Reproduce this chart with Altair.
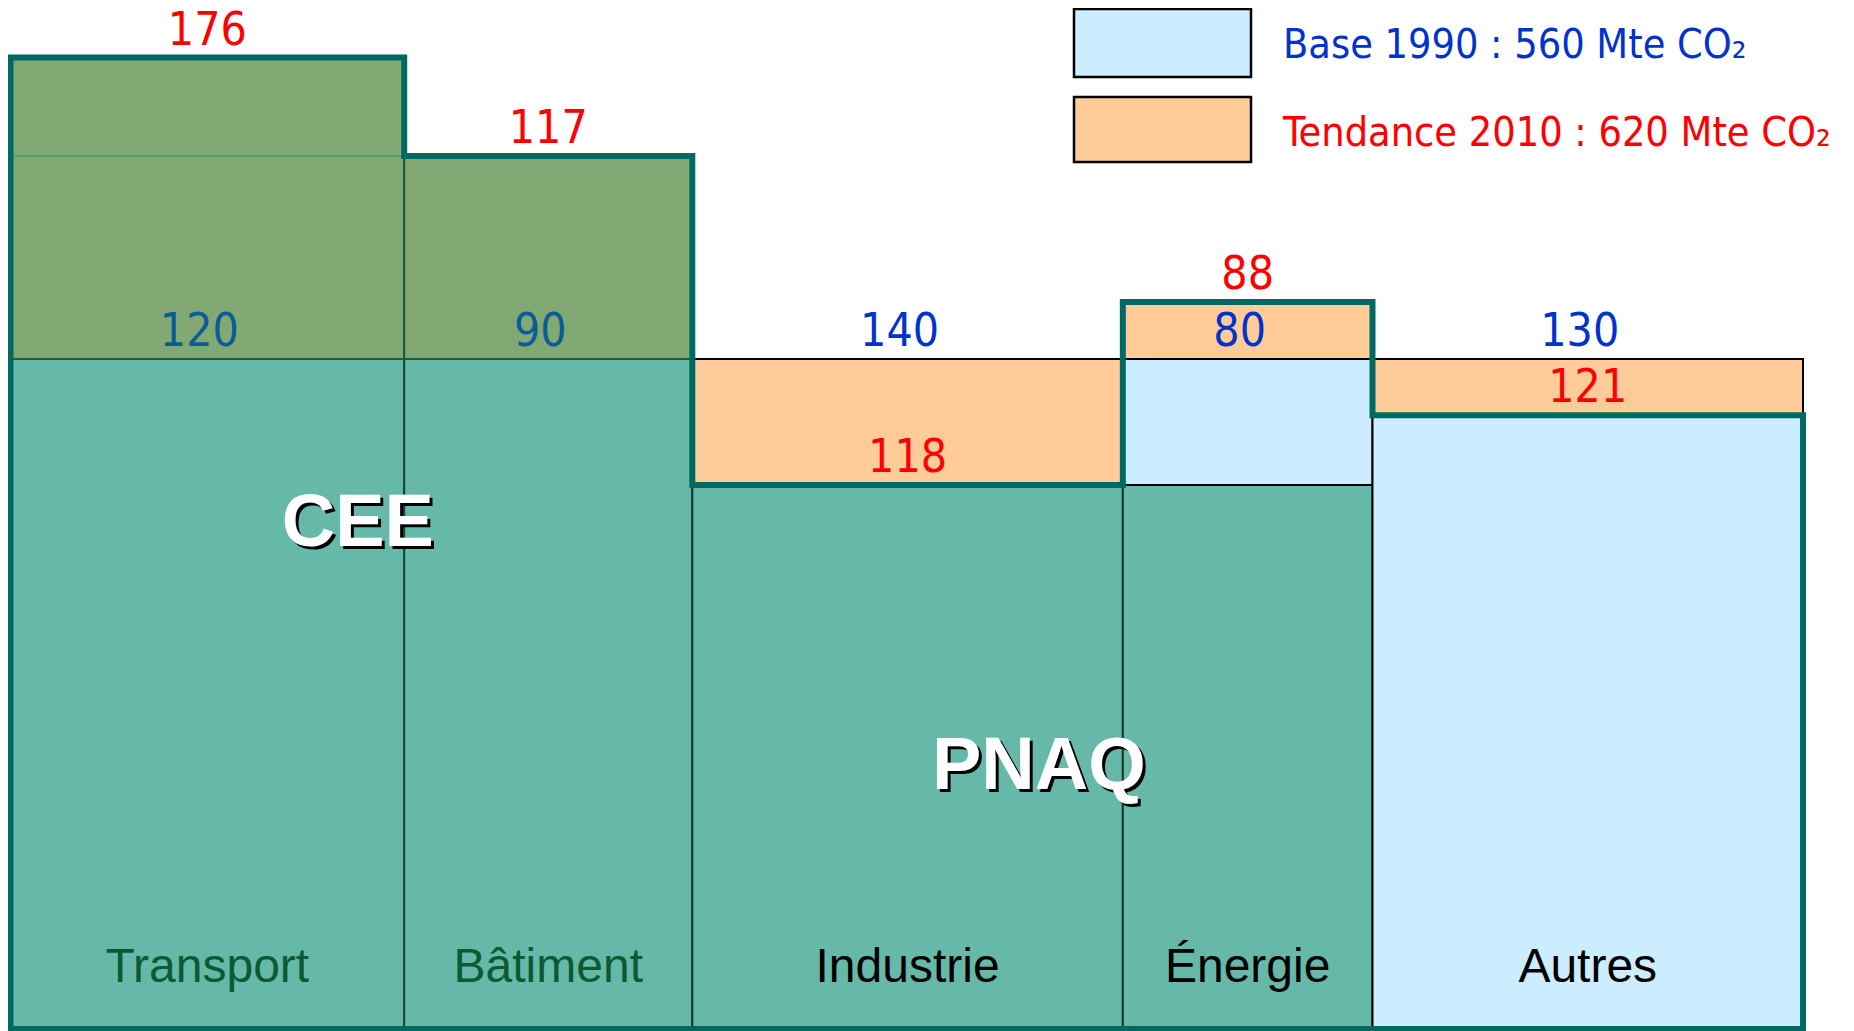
import altair as alt
import pandas as pd

# ---------------- data ----------------
secteurs = ["Transport", "Bâtiment", "Industrie", "Énergie", "Autres"]
base_1990 = [120, 90, 140, 80, 130]            # Mt CO2, 1990 labels
tendance_2010 = [176, 117, 118, 88, 121]       # Mt CO2, 2010 trend labels
largeur = [123, 90, 134.5, 78, 134.5]          # column widths (Mt scale, total 560)
indice_2010 = [145, 130.3, 81.2, 108.5, 91.6]  # column heights, 1990 level = 100
dispositif = ["CEE", "CEE", "PNAQ", "PNAQ", ""]
legende = ["Base 1990 : 560 Mte CO₂", "Tendance 2010 : 620 Mte CO₂"]

# ---------------- styles ----------------
TEAL = "#66B8A8"
OLIVE = "#82A874"
BLEU_CLAIR = "#CCECFF"
PECHE = "#FFCC99"
CONTOUR = "#006A62"
ROUGE = "#FF0000"
BLEU = "#0033CC"
BLEU_CEE = "#0A5C96"
VERT_TXT = "#0B5A32"
F_NUM = "DejaVu Sans Condensed, DejaVu Sans"
F_CAT = "Liberation Sans, Arial"
BASE = 100

x0, acc = [], 0
for w in largeur:
    x0.append(acc)
    acc += w
x1 = [a + w for a, w in zip(x0, largeur)]
centre = [(a + b) / 2 for a, b in zip(x0, x1)]

niveau_pnaq = min(v for v, d in zip(indice_2010, dispositif) if d == "PNAQ")

seg = []
for i, s in enumerate(secteurs):
    v = indice_2010[i]
    d = dispositif[i]
    bas, haut = min(v, BASE), max(v, BASE)
    if d == "CEE":
        seg.append(dict(x0=x0[i], x1=x1[i], y0=0, y1=BASE, fill=TEAL, stroke="#0E4A30"))
        seg.append(dict(x0=x0[i], x1=x1[i], y0=BASE, y1=v, fill=OLIVE, stroke="#1F5A3A"))
    elif d == "PNAQ":
        seg.append(dict(x0=x0[i], x1=x1[i], y0=0, y1=niveau_pnaq, fill=TEAL, stroke="#123A2A"))
        if niveau_pnaq < bas:
            seg.append(dict(x0=x0[i], x1=x1[i], y0=niveau_pnaq, y1=bas, fill=BLEU_CLAIR, stroke="#000000"))
        if haut > bas:
            seg.append(dict(x0=x0[i], x1=x1[i], y0=bas, y1=haut, fill=PECHE, stroke="#000000"))
    else:
        seg.append(dict(x0=x0[i], x1=x1[i], y0=0, y1=bas, fill=BLEU_CLAIR, stroke="#000000"))
        if haut > bas:
            seg.append(dict(x0=x0[i], x1=x1[i], y0=bas, y1=haut, fill=PECHE, stroke="#000000"))
df_seg = pd.DataFrame(seg)

# faint line in the CEE block at the level of the next column
fines = []
for i in range(len(secteurs) - 1):
    if dispositif[i] == "CEE" and BASE < indice_2010[i + 1] < indice_2010[i]:
        fines.append(dict(x0=x0[i], x1=x1[i], y=indice_2010[i + 1]))
df_fines = pd.DataFrame(fines)

# thick step outline
pts = [(x0[0], 0)] + [(x0[i], indice_2010[i]) for i in range(len(secteurs))] + [(x1[-1], 0), (x0[0], 0)]
df_contour = pd.DataFrame([dict(ordre=k, x=p[0], y=p[1]) for k, p in enumerate(pts)])

df_lab = pd.DataFrame(dict(
    secteur=secteurs,
    centre=centre,
    indice=indice_2010,
    base_lab=[str(v) for v in base_1990],
    tend_lab=[str(v) for v in tendance_2010],
    coul_base=[BLEU_CEE if d == "CEE" else BLEU for d in dispositif],
    coul_cat=[VERT_TXT if d == "CEE" else "#000000" for d in dispositif],
    zero=[0] * len(secteurs),
    cent=[BASE] * len(secteurs),
))

groupes = []
for g in ["CEE", "PNAQ"]:
    idx = [i for i, d in enumerate(dispositif) if d == g]
    groupes.append(dict(nom=g, xc=(x0[idx[0]] + x1[idx[-1]]) / 2 + 2))
df_grp = pd.DataFrame(groupes)

# ---------------- scales ----------------
PX_X = 1838
PX_Y = 1030
xs = alt.Scale(domain=[-0.781, 573.43], nice=False, zero=False)
ys = alt.Scale(domain=[-1.343, 152.39], nice=False, zero=False)

rects = alt.Chart(df_seg).mark_rect(strokeWidth=2).encode(
    x=alt.X("x0:Q", scale=xs, axis=None),
    x2="x1:Q",
    y=alt.Y("y0:Q", scale=ys, axis=None),
    y2="y1:Q",
    fill=alt.Fill("fill:N", scale=None),
    stroke=alt.Stroke("stroke:N", scale=None),
)

fine = alt.Chart(df_fines).mark_rule(color="#45A070", strokeWidth=1.5).encode(
    x=alt.X("x0:Q", scale=xs, axis=None),
    x2="x1:Q",
    y=alt.Y("y:Q", scale=ys, axis=None),
)

contour = alt.Chart(df_contour).mark_line(
    interpolate="step-after", color=CONTOUR, strokeWidth=6,
    strokeJoin="miter", strokeCap="square",
).encode(
    x=alt.X("x:Q", scale=xs, axis=None),
    y=alt.Y("y:Q", scale=ys, axis=None),
    order="ordre:Q",
)

txt_tend = alt.Chart(df_lab).mark_text(
    font=F_NUM, fontSize=46, baseline="alphabetic", align="center", dy=-13, color=ROUGE
).encode(
    x=alt.X("centre:Q", scale=xs, axis=None),
    y=alt.Y("indice:Q", scale=ys, axis=None),
    text="tend_lab:N",
)

txt_base = alt.Chart(df_lab).mark_text(
    font=F_NUM, fontSize=46, baseline="alphabetic", align="center", dx=-8, dy=-13
).encode(
    x=alt.X("centre:Q", scale=xs, axis=None),
    y=alt.Y("cent:Q", scale=ys, axis=None),
    text="base_lab:N",
    color=alt.Color("coul_base:N", scale=None),
)

txt_cat = alt.Chart(df_lab).mark_text(
    font=F_CAT, fontSize=48, baseline="alphabetic", align="center", dy=-47
).encode(
    x=alt.X("centre:Q", scale=xs, axis=None),
    y=alt.Y("zero:Q", scale=ys, axis=None),
    text="secteur:N",
    color=alt.Color("coul_cat:N", scale=None),
)

grp_y = {"CEE": 538, "PNAQ": 781}
grp_layers = []
for g in ["CEE", "PNAQ"]:
    d = df_grp[df_grp.nom == g]
    for col, off in [("#000000", 3), ("#FFFFFF", 0)]:
        grp_layers.append(
            alt.Chart(d).mark_text(
                font=F_CAT, fontSize=74, fontWeight="bold", baseline="alphabetic",
                align="center", color=col, dx=off, dy=off,
            ).encode(
                x=alt.X("xc:Q", scale=xs, axis=None),
                y=alt.value(grp_y[g]),
                text="nom:N",
            )
        )

leg_layers = []
leg_fill = [BLEU_CLAIR, PECHE]
leg_col = [BLEU, ROUGE]
leg_box = [(1, 69), (89, 154)]
leg_txt_y = [50, 138]
for k, lab in enumerate(legende):
    d = pd.DataFrame(dict(lab=[lab]))
    leg_layers.append(
        alt.Chart(d).mark_rect(fill=leg_fill[k], stroke="#000000", strokeWidth=2.5).encode(
            x=alt.value(1066), x2=alt.value(1243),
            y=alt.value(leg_box[k][0]), y2=alt.value(leg_box[k][1]),
        )
    )
    leg_layers.append(
        alt.Chart(d).mark_text(
            font=F_NUM, fontSize=41, baseline="alphabetic", align="left", color=leg_col[k]
        ).encode(
            x=alt.value(1275), y=alt.value(leg_txt_y[k]), text="lab:N",
        )
    )

chart = alt.layer(
    rects, fine, contour, txt_tend, txt_base, txt_cat, *grp_layers, *leg_layers
).properties(
    width=PX_X, height=PX_Y, padding=0, autosize="none"
).configure_view(stroke=None)

chart.save("out.html", embed_options={"renderer": "svg", "actions": False})
